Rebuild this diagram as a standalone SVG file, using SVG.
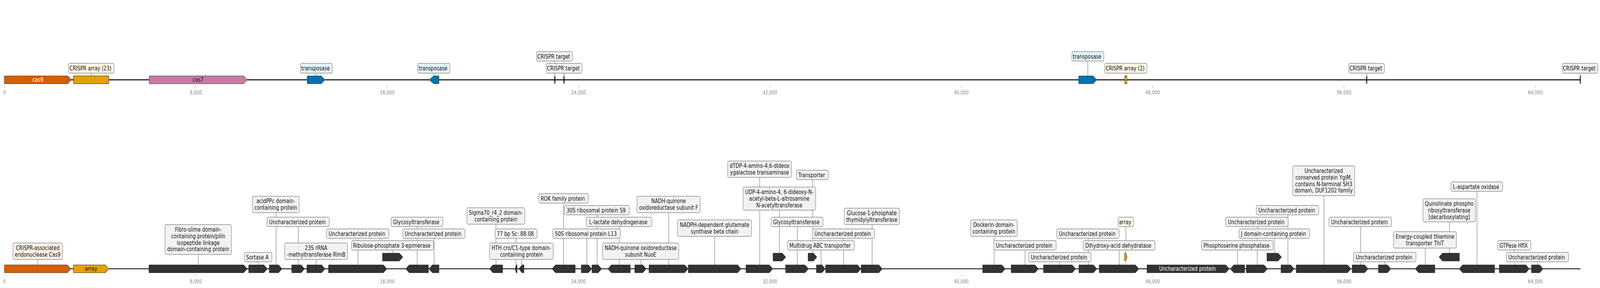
<svg xmlns="http://www.w3.org/2000/svg" width="5114" height="736" viewBox="0 0 5114 736" preserveAspectRatio="none" style="width:100vw;height:100vh;max-width:5114px;max-height:736px">
<style>
.t{font-family:"DejaVu Sans","Liberation Sans",sans-serif;font-size:15px;fill:#111;text-anchor:middle}
.tw{fill:#fff}
.tl{font-family:"DejaVu Sans","Liberation Sans",sans-serif;font-size:13.4px;fill:#888;text-anchor:middle}
.tick{stroke:#888;stroke-width:1}
.lb{fill:#f2f2f2;stroke:#8a8a8a;stroke-width:1.5}
.lc{fill:#fef6e4}
.lp{fill:#fdf0e6}
.lt{fill:#e4f3fb}
.g{fill:#333;stroke:#111;stroke-width:1}
.o{fill:#d55e00;stroke:#222;stroke-width:1}
.y{fill:#e69f00;stroke:#222;stroke-width:1}
.p{fill:#cc79a7;stroke:#222;stroke-width:1}
.b{fill:#0072b2;stroke:#222;stroke-width:1}
.k{fill:#000;stroke:#000;stroke-width:0.5}
.sh{fill:#999}
#connectors line{stroke:#555;stroke-width:1}
</style>
<rect width="5114" height="736" fill="#fff"/>
<g id="axes">
<line x1="14" y1="204" x2="5052" y2="204" stroke="#000" stroke-width="2.6"/>
<line x1="14.5" y1="687" x2="5052" y2="687" stroke="#000" stroke-width="2"/>
<g class="tick">
<line x1="14.4" y1="219" x2="14.4" y2="224"/><line x1="626" y1="219" x2="626" y2="224"/><line x1="1237.6" y1="219" x2="1237.6" y2="224"/><line x1="1849.2" y1="219" x2="1849.2" y2="224"/><line x1="2460.8" y1="219" x2="2460.8" y2="224"/><line x1="3072.4" y1="219" x2="3072.4" y2="224"/><line x1="3684" y1="219" x2="3684" y2="224"/><line x1="4295.6" y1="219" x2="4295.6" y2="224"/><line x1="4907.2" y1="219" x2="4907.2" y2="224"/>
<line x1="14.4" y1="702" x2="14.4" y2="706"/><line x1="626" y1="702" x2="626" y2="706"/><line x1="1237.6" y1="702" x2="1237.6" y2="706"/><line x1="1849.2" y1="702" x2="1849.2" y2="706"/><line x1="2460.8" y1="702" x2="2460.8" y2="706"/><line x1="3072.4" y1="702" x2="3072.4" y2="706"/><line x1="3684" y1="702" x2="3684" y2="706"/><line x1="4295.6" y1="702" x2="4295.6" y2="706"/><line x1="4907.2" y1="702" x2="4907.2" y2="706"/>
</g>
<g class="tl">
<text x="14.4" y="241.5">0</text><text x="626" y="241.5">8,000</text><text x="1237.6" y="241.5">16,000</text><text x="1849.2" y="241.5">24,000</text><text x="2460.8" y="241.5">32,000</text><text x="3072.4" y="241.5">40,000</text><text x="3684" y="241.5">48,000</text><text x="4295.6" y="241.5">56,000</text><text x="4907.2" y="241.5">64,000</text>
<text x="14.4" y="724">0</text><text x="626" y="724">8,000</text><text x="1237.6" y="724">16,000</text><text x="1849.2" y="724">24,000</text><text x="2460.8" y="724">32,000</text><text x="3072.4" y="724">40,000</text><text x="3684" y="724">48,000</text><text x="4295.6" y="724">56,000</text><text x="4907.2" y="724">64,000</text>
</g>
</g>
<g id="connectors">
<line x1="292" y1="187" x2="292" y2="194"/>
<line x1="1010.5" y1="187" x2="1010.5" y2="194"/>
<line x1="1387.5" y1="187" x2="1387.5" y2="194"/>
<line x1="1773" y1="156" x2="1773" y2="194"/>
<line x1="1803" y1="187" x2="1803" y2="194"/>
<line x1="3477" y1="156" x2="3477" y2="194"/>
<line x1="3598.5" y1="187" x2="3598.5" y2="194"/>
<line x1="4368" y1="187" x2="4368" y2="194"/>
<line x1="5051" y1="187" x2="5051" y2="194"/>
<line x1="121" y1="663" x2="121" y2="677"/>
<line x1="634" y1="650" x2="634" y2="677"/>
<line x1="825" y1="669" x2="825" y2="677"/>
<line x1="882.6" y1="543.5" x2="882.6" y2="677"/>
<line x1="953.5" y1="579" x2="953.5" y2="677"/>
<line x1="1010.5" y1="663" x2="1010.5" y2="677"/>
<line x1="1144" y1="609" x2="1144" y2="677"/>
<line x1="1255.6" y1="639" x2="1255.6" y2="647"/>
<line x1="1333.4" y1="579" x2="1333.4" y2="677"/>
<line x1="1387.5" y1="609" x2="1387.5" y2="677"/>
<line x1="1585.3" y1="573" x2="1585.3" y2="677"/>
<line x1="1649.3" y1="609" x2="1649.3" y2="677"/>
<line x1="1667" y1="663" x2="1667" y2="677"/>
<line x1="1801.2" y1="519" x2="1801.2" y2="677"/>
<line x1="1875.8" y1="609" x2="1875.8" y2="677"/>
<line x1="1908.5" y1="549" x2="1908.5" y2="677"/>
<line x1="1979.4" y1="579" x2="1979.4" y2="677"/>
<line x1="2048.4" y1="663" x2="2048.4" y2="677"/>
<line x1="2137.5" y1="543.5" x2="2137.5" y2="677"/>
<line x1="2284.4" y1="604" x2="2284.4" y2="677"/>
<line x1="2428.3" y1="453.5" x2="2428.3" y2="677"/>
<line x1="2491.2" y1="537" x2="2491.2" y2="647"/>
<line x1="2548.3" y1="579" x2="2548.3" y2="677"/>
<line x1="2597.7" y1="459" x2="2597.7" y2="647"/>
<line x1="2624.2" y1="639" x2="2624.2" y2="677"/>
<line x1="2696.2" y1="609" x2="2696.2" y2="677"/>
<line x1="2787.5" y1="574" x2="2787.5" y2="677"/>
<line x1="3177.5" y1="604" x2="3177.5" y2="677"/>
<line x1="3276.4" y1="639" x2="3276.4" y2="677"/>
<line x1="3387.3" y1="669" x2="3387.3" y2="677"/>
<line x1="3478.5" y1="609" x2="3478.5" y2="677"/>
<line x1="3577.4" y1="639" x2="3577.4" y2="677"/>
<line x1="3598.5" y1="579" x2="3598.5" y2="647"/>
<line x1="3955.4" y1="639" x2="3955.4" y2="677"/>
<line x1="4018.4" y1="579" x2="4018.4" y2="677"/>
<line x1="4073.2" y1="609" x2="4073.2" y2="647"/>
<line x1="4116.5" y1="549" x2="4116.5" y2="677"/>
<line x1="4231.7" y1="500" x2="4231.7" y2="677"/>
<line x1="4348.8" y1="579" x2="4348.8" y2="677"/>
<line x1="4426.2" y1="669" x2="4426.2" y2="677"/>
<line x1="4555.6" y1="634" x2="4555.6" y2="677"/>
<line x1="4632.8" y1="567" x2="4632.8" y2="647"/>
<line x1="4720.8" y1="489" x2="4720.8" y2="677"/>
<line x1="4840.6" y1="639" x2="4840.6" y2="677"/>
<line x1="4914.4" y1="669" x2="4914.4" y2="677"/>
</g>
<!-- top track -->
<g id="top-cas9"><polygon class="o" points="14,194 217,194 228,204 217,214 14,214"/><text class="t tw" x="121" y="209.5">cas9</text></g>
<g id="top-crispr-array-23"><rect class="y" x="235" y="194" width="113" height="20"/><rect class="lb lc" x="219" y="162" width="145" height="25" rx="4"/><text class="t" x="289" y="180">CRISPR array (23)</text></g>
<g id="top-cas7"><polygon class="p" points="477,194 779,194 790,204 779,214 477,214"/><text class="t" x="633" y="209.5">cas7</text></g>
<g id="top-transposase-1"><polygon class="b" points="982,194 1027,194 1039,204 1027,214 982,214"/><rect class="lb lt" x="960" y="162" width="102" height="25" rx="4"/><text class="t" x="1008.6" y="180">transposase</text></g>
<g id="top-transposase-2"><polygon class="b" points="1372,204 1386,194 1403,194 1403,214 1386,214"/><rect class="lb lt" x="1335" y="162" width="103" height="25" rx="4"/><text class="t" x="1384" y="180">transposase</text></g>
<g id="top-crispr-target-1"><polygon class="k" points="1773,194 1774.5,194 1774.5,214 1773,214 1771.5,204"/><rect class="lb" x="1715" y="132" width="115" height="24" rx="4"/><text class="t" x="1770" y="150">CRISPR target</text></g>
<g id="top-crispr-target-2"><polygon class="k" points="1801.5,194 1803,194 1804.5,204 1803,214 1801.5,214"/><rect class="lb" x="1746" y="162" width="114" height="25" rx="4"/><text class="t" x="1800.6" y="180">CRISPR target</text></g>
<g id="top-transposase-3"><polygon class="b" points="3448,194 3494,194 3506,204 3494,214 3448,214"/><rect class="lb lt" x="3426" y="132" width="102" height="24" rx="4"/><text class="t" x="3474.6" y="150">transposase</text></g>
<g id="top-crispr-array-2"><rect class="y" x="3595" y="194" width="7" height="20"/><rect class="lb lc" x="3531" y="162" width="135" height="25" rx="4"/><text class="t" x="3596" y="180">CRISPR array (2)</text></g>
<g id="top-crispr-target-3"><polygon class="k" points="4366.5,204 4368,194 4369.5,194 4369.5,214 4368,214"/><rect class="lb" x="4311" y="162" width="114" height="25" rx="4"/><text class="t" x="4365.6" y="180">CRISPR target</text></g>
<g id="top-crispr-target-4"><polygon class="k" points="5050,194 5052,194 5052,214 5050,214"/><rect class="lb" x="4993" y="162" width="114" height="25" rx="4"/><text class="t" x="5047.6" y="180">CRISPR target</text></g>
<!-- bottom track -->
<g id="b-cas9"><polygon class="o" points="14.5,677 215.5,677 226.5,687 215.5,697 14.5,697"/><rect class="lb lp" x="41.5" y="621" width="158" height="42" rx="4"/><text class="t" x="120.5" y="639">CRISPR-associated</text><text class="t" x="120.5" y="656">endonuclease Cas9</text></g>
<g id="b-array"><polygon class="y" points="234.5,677 337,677 348,687 337,697 234.5,697"/><text class="t" x="291" y="692.5">array</text></g>
<g id="b-fibro"><polygon class="g" points="476,677 779,677 790,687 779,697 476,697"/><rect class="lb" x="527.5" y="574" width="212" height="76" rx="4"/><text class="t" x="633.5" y="592">Fibro-slime domain-</text><text class="t" x="633.5" y="608.8">containing protein/pilin</text><text class="t" x="633.5" y="625.6">isopeptide linkage</text><text class="t" x="633.5" y="642.4">domain-containing protein</text></g>
<g id="b-sortase"><polygon class="g" points="795,677 843.5,677 854.5,687 843.5,697 795,697"/><rect class="lb" x="781" y="645" width="88" height="24" rx="4"/><text class="t" x="822.6" y="663">Sortase A</text></g>
<g id="b-acidppc"><polygon class="g" points="861,677 890.5,677 901.5,687 890.5,697 861,697"/><rect class="lb" x="807" y="501.5" width="149" height="42" rx="4"/><text class="t" x="881.5" y="519.5">acidPPc domain-</text><text class="t" x="881.5" y="536.3">containing protein</text></g>
<g id="b-unch-1"><polygon class="g" points="932.5,677 962.5,677 973.5,687 962.5,697 932.5,697"/><rect class="lb" x="853.5" y="555" width="199" height="24" rx="4"/><text class="t" x="950.6" y="573">Uncharacterized protein</text></g>
<g id="b-23s"><polygon class="g" points="981,677 1028,677 1039,687 1028,697 981,697"/><rect class="lb" x="910" y="621" width="200.5" height="42" rx="4"/><text class="t" x="1010.3" y="639">23S rRNA</text><text class="t" x="1010.3" y="656">-methyltransferase RlmB</text></g>
<g id="b-unch-2"><polygon class="g" points="1050,677 1225.5,677 1236.5,687 1225.5,697 1050,697"/><rect class="lb" x="1043.5" y="585" width="199.5" height="24" rx="4"/><text class="t" x="1140.9" y="603">Uncharacterized protein</text></g>
<g id="b-ribulose"><polygon class="g" points="1222.5,647 1276.5,647 1287.5,657 1276.5,667 1222.5,667"/><rect class="lb" x="1123.5" y="615" width="262" height="24" rx="4"/><text class="t" x="1252.1" y="633">Ribulose-phosphate 3-epimerase</text></g>
<g id="b-glyco-1"><polygon class="g" points="1297,687 1308,677 1369.5,677 1369.5,697 1308,697"/><rect class="lb" x="1250" y="555" width="165.5" height="24" rx="4"/><text class="t" x="1330.4" y="573">Glycosyltransferase</text></g>
<g id="b-unch-3"><polygon class="g" points="1371,687 1382,677 1403,677 1403,697 1382,697"/><rect class="lb" x="1287" y="585" width="199" height="24" rx="4"/><text class="t" x="1384.1" y="603">Uncharacterized protein</text></g>
<g id="b-sigma70"><polygon class="g" points="1564.5,687 1575.5,677 1606.5,677 1606.5,697 1575.5,697"/><rect class="lb" x="1492.5" y="531" width="185" height="42" rx="4"/><text class="t" x="1585" y="549">Sigma70_r4_2 domain-</text><text class="t" x="1585" y="566">containing protein</text></g>
<g id="b-77bp"><polygon class="g" points="1646.5,687 1650,677 1652.5,677 1652.5,697 1650,697"/><rect class="lb" x="1582.5" y="585" width="134" height="24" rx="4"/><text class="t" x="1647" y="603">77 bp Sc: 88.08</text></g>
<g id="b-hth"><polygon class="g" points="1658.5,687 1668.5,677 1674.5,677 1674.5,697 1668.5,697"/><rect class="lb" x="1565" y="621" width="203" height="42" rx="4"/><text class="t" x="1666.5" y="639">HTH cro/C1-type domain-</text><text class="t" x="1666.5" y="656">containing protein</text></g>
<g id="b-rok"><polygon class="g" points="1764.5,687 1775.5,677 1838.5,677 1838.5,697 1775.5,697"/><rect class="lb" x="1722.5" y="495" width="157.5" height="24" rx="4"/><text class="t" x="1798.8" y="513">ROK family protein</text></g>
<g id="b-50s"><polygon class="g" points="1858,677 1880.5,677 1891.5,687 1880.5,697 1858,697"/><rect class="lb" x="1767" y="585" width="215.5" height="24" rx="4"/><text class="t" x="1872.4" y="603">50S ribosomal protein L13</text></g>
<g id="b-30s"><polygon class="g" points="1892,677 1912,677 1923,687 1912,697 1892,697"/><rect class="lb" x="1804" y="525" width="207.3" height="24" rx="4"/><text class="t" x="1905.3" y="543">30S ribosomal protein S9</text></g>
<g id="b-llactate"><polygon class="g" points="1943,687 1954,677 2014.5,677 2014.5,697 1954,697"/><rect class="lb" x="1874" y="555" width="209.3" height="24" rx="4"/><text class="t" x="1976.3" y="573">L-lactate dehydrogenase</text></g>
<g id="b-nuoe"><polygon class="g" points="2029,677 2054.5,677 2065.5,687 2054.5,697 2029,697"/><rect class="lb" x="1926" y="621" width="243.5" height="42" rx="4"/><text class="t" x="2047.7" y="639">NADH-quinone oxidoreductase</text><text class="t" x="2047.7" y="656">subunit NuoE</text></g>
<g id="b-nuof"><polygon class="g" points="2074.5,677 2188.5,677 2199.5,687 2188.5,697 2074.5,697"/><rect class="lb" x="2036" y="501.5" width="201.8" height="42" rx="4"/><text class="t" x="2136.9" y="519.5">NADH-quinone</text><text class="t" x="2136.9" y="536.3">oxidoreductase subunit F</text></g>
<g id="b-nadph"><polygon class="g" points="2200,677 2357.5,677 2368.5,687 2357.5,697 2200,697"/><rect class="lb" x="2166" y="562" width="236" height="42" rx="4"/><text class="t" x="2284" y="580">NADPH-dependent glutamate</text><text class="t" x="2284" y="596.8">synthase beta chain</text></g>
<g id="b-dtdp"><polygon class="g" points="2384.5,677 2459,677 2470,687 2459,697 2384.5,697"/><rect class="lb" x="2326" y="411.5" width="203.4" height="42" rx="4"/><text class="t" x="2427.7" y="429.5">dTDP-4-amino-4,6-dideox</text><text class="t" x="2427.7" y="446.3">ygalactose transaminase</text></g>
<g id="b-udp"><polygon class="g" points="2471,647 2500.5,647 2511.5,657 2500.5,667 2471,667"/><rect class="lb" x="2375" y="478" width="232" height="59" rx="4"/><text class="t" x="2491" y="496">UDP-4-amino-4, 6-dideoxy-N-</text><text class="t" x="2491" y="512.8">acetyl-beta-L-altrosamine</text><text class="t" x="2491" y="529.6">N-acetyltransferase</text></g>
<g id="b-glyco-2"><polygon class="g" points="2511,677 2573,677 2584,687 2573,697 2511,697"/><rect class="lb" x="2465" y="555" width="165.4" height="24" rx="4"/><text class="t" x="2545.3" y="573">Glycosyltransferase</text></g>
<g id="b-transporter"><polygon class="g" points="2583,647 2600,647 2611,657 2600,667 2583,667"/><rect class="lb" x="2546" y="435" width="101.5" height="24" rx="4"/><text class="t" x="2594.4" y="453">Transporter</text></g>
<g id="b-multidrug"><polygon class="g" points="2609.5,677 2627,677 2638,687 2627,697 2609.5,697"/><rect class="lb" x="2517" y="615" width="213.7" height="24" rx="4"/><text class="t" x="2621.5" y="633">Multidrug ABC transporter</text></g>
<g id="b-unch-4"><polygon class="g" points="2639,677 2741,677 2752,687 2741,697 2639,697"/><rect class="lb" x="2596.6" y="585" width="198.8" height="24" rx="4"/><text class="t" x="2693.6" y="603">Uncharacterized protein</text></g>
<g id="b-glucose"><polygon class="g" points="2752.5,677 2809,677 2820,687 2809,697 2752.5,697"/><rect class="lb" x="2698.4" y="532" width="176.3" height="42" rx="4"/><text class="t" x="2786.5" y="550">Glucose-1-phosphate</text><text class="t" x="2786.5" y="566.8">thymidylyltransferase</text></g>
<g id="b-dockerin"><polygon class="g" points="3141,677 3202,677 3213,687 3202,697 3141,697"/><rect class="lb" x="3102.3" y="562" width="149" height="42" rx="4"/><text class="t" x="3176.8" y="580">Dockerin domain-</text><text class="t" x="3176.8" y="596.8">containing protein</text></g>
<g id="b-unch-5"><polygon class="g" points="3232,677 3308,677 3319,687 3308,697 3232,697"/><rect class="lb" x="3176.4" y="615" width="199.2" height="24" rx="4"/><text class="t" x="3273.6" y="633">Uncharacterized protein</text></g>
<g id="b-unch-6"><polygon class="g" points="3335.5,677 3427,677 3438,687 3427,697 3335.5,697"/><rect class="lb" x="3287.3" y="645" width="199.6" height="24" rx="4"/><text class="t" x="3384.7" y="663">Uncharacterized protein</text></g>
<g id="b-unch-7"><polygon class="g" points="3448.5,677 3495,677 3506,687 3495,697 3448.5,697"/><rect class="lb" x="3377.8" y="585" width="199.2" height="24" rx="4"/><text class="t" x="3475" y="603">Uncharacterized protein</text></g>
<g id="b-dihydroxy"><polygon class="g" points="3513.5,677 3629,677 3640,687 3629,697 3513.5,697"/><rect class="lb" x="3462.2" y="615" width="229.3" height="24" rx="4"/><text class="t" x="3574.5" y="633">Dihydroxy-acid dehydratase</text></g>
<g id="b-array-2"><polygon class="y" points="3594.5,647 3598.5,647 3602.5,657 3598.5,667 3594.5,667"/><rect class="lb lc" x="3573.8" y="555" width="49" height="24" rx="4"/><text class="t" x="3596" y="573">array</text></g>
<g id="b-unch-big"><polygon class="g" points="3666,677 3918,677 3929,687 3918,697 3666,697"/><text class="t tw" x="3795.5" y="692.5">Uncharacterized protein</text></g>
<g id="b-phosphoserine"><polygon class="g" points="3932.5,687 3943.5,677 3978,677 3978,697 3943.5,697"/><rect class="lb" x="3840.2" y="615" width="229" height="24" rx="4"/><text class="t" x="3952.3" y="633">Phosphoserine phosphatase</text></g>
<g id="b-unch-8"><polygon class="g" points="3983.5,677 4040,677 4051,687 4040,697 3983.5,697"/><rect class="lb" x="3917.6" y="555" width="199.6" height="24" rx="4"/><text class="t" x="4015" y="573">Uncharacterized protein</text></g>
<g id="b-jdomain"><polygon class="g" points="4049.5,647 4085,647 4096,657 4085,667 4049.5,667"/><rect class="lb" x="3960.2" y="585" width="225.4" height="24" rx="4"/><text class="t" x="4070.5" y="603">J domain-containing protein</text></g>
<g id="b-unch-9"><polygon class="g" points="4094.5,677 4125.5,677 4136.5,687 4125.5,697 4094.5,697"/><rect class="lb" x="4015.4" y="525" width="199.6" height="24" rx="4"/><text class="t" x="4112.8" y="543">Uncharacterized protein</text></g>
<g id="b-ygim"><polygon class="g" points="4143,677 4307,677 4318,687 4307,697 4143,697"/><rect class="lb" x="4131.8" y="424" width="198.1" height="76" rx="4"/><text class="t" x="4230.9" y="442">Uncharacterized</text><text class="t" x="4230.9" y="458.8">conserved protein YgiM,</text><text class="t" x="4230.9" y="475.6">contains N-terminal SH3</text><text class="t" x="4230.9" y="492.4">domain, DUF1202 family</text></g>
<g id="b-unch-10"><polygon class="g" points="4322,677 4361.5,677 4372.5,687 4361.5,697 4322,697"/><rect class="lb" x="4248" y="555" width="199.3" height="24" rx="4"/><text class="t" x="4345.3" y="573">Uncharacterized protein</text></g>
<g id="b-unch-11"><polygon class="g" points="4406,677 4434.5,677 4445.5,687 4434.5,697 4406,697"/><rect class="lb" x="4326.6" y="645" width="199.2" height="24" rx="4"/><text class="t" x="4423.8" y="663">Uncharacterized protein</text></g>
<g id="b-energy"><polygon class="g" points="4523.5,687 4534.5,677 4586,677 4586,697 4534.5,697"/><rect class="lb" x="4454.2" y="592" width="200.8" height="42" rx="4"/><text class="t" x="4554.6" y="610">Energy-coupled thiamine</text><text class="t" x="4554.6" y="626.8">transporter ThiT</text></g>
<g id="b-quinolinate"><polygon class="g" points="4599.5,657 4610.5,647 4664.5,647 4664.5,667 4610.5,667"/><rect class="lb" x="4548.3" y="508" width="167.5" height="59" rx="4"/><text class="t" x="4632" y="526">Quinolinate phospho</text><text class="t" x="4632" y="542.8">ribosyltransferase</text><text class="t" x="4632" y="559.6">[decarboxylating]</text></g>
<g id="b-laspartate"><polygon class="g" points="4664,687 4675,677 4777,677 4777,697 4675,697"/><rect class="lb" x="4637.7" y="465" width="165.1" height="24" rx="4"/><text class="t" x="4717.9" y="483">L-aspartate oxidase</text></g>
<g id="b-gtpase"><polygon class="g" points="4792,677 4877,677 4888,687 4877,697 4792,697"/><rect class="lb" x="4787" y="615" width="106.2" height="24" rx="4"/><text class="t" x="4837.7" y="633">GTPase HflX</text></g>
<g id="b-unch-12"><polygon class="g" points="4895,677 4921,677 4932,687 4921,697 4895,697"/><rect class="lb" x="4814.4" y="645" width="199" height="24" rx="4"/><text class="t" x="4911.5" y="663">Uncharacterized protein</text></g>
</svg>
